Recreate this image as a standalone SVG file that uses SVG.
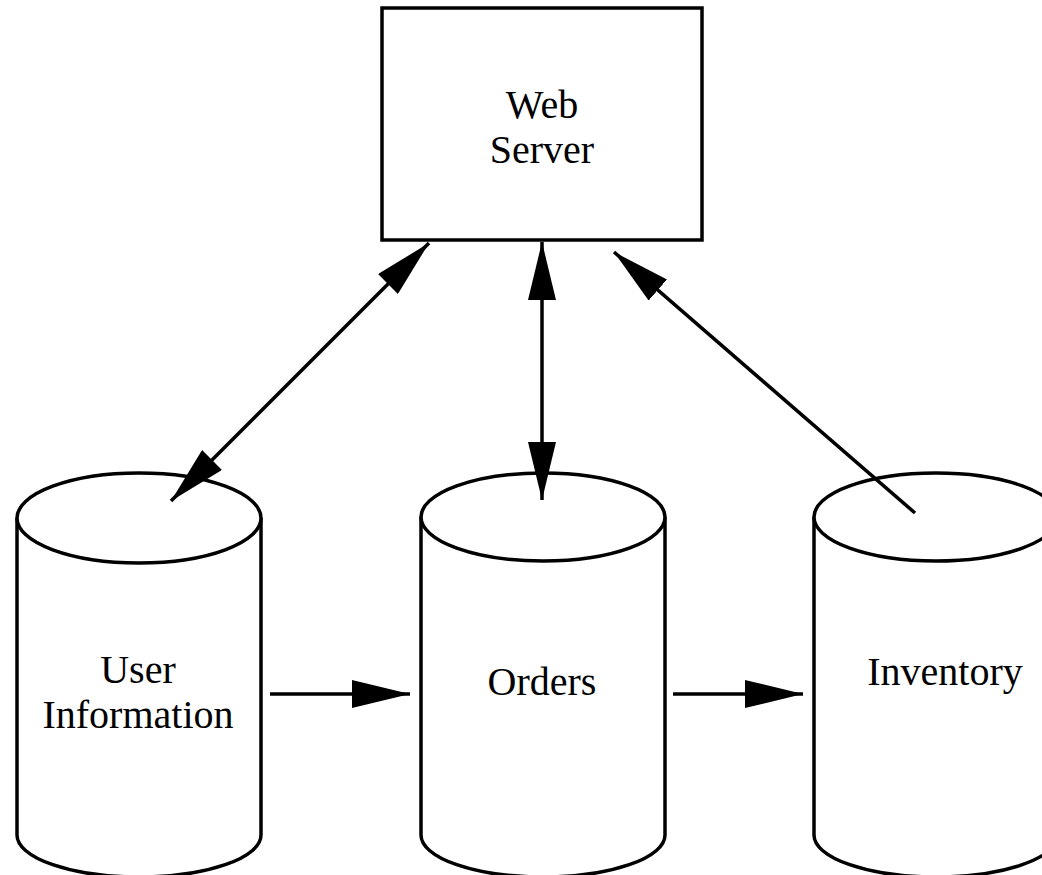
<svg xmlns="http://www.w3.org/2000/svg" width="1042" height="875" viewBox="0 0 1042 875">
<style>
.shape{fill:#fff;stroke:#000;stroke-width:3.5}
.lbl{font-family:"Liberation Serif","Times New Roman",serif;font-size:40px;fill:#000;text-anchor:middle}
.conn{stroke:#000;stroke-width:3.5;fill:none}
</style>
<defs>
<marker id="ah" markerUnits="userSpaceOnUse" markerWidth="58" markerHeight="28" refX="58" refY="14" orient="auto-start-reverse" viewBox="0 0 58 28">
<path d="M0,0 L58,14 L0,28 z" fill="#000"/>
</marker>
</defs>
<rect width="1042" height="875" fill="#fff"/>
<g id="web-server">
<rect class="shape" x="382" y="8" width="320" height="232"/>
<text class="lbl" x="542" y="118">Web</text>
<text class="lbl" x="542" y="163">Server</text>
</g>
<g id="user-information">
<path class="shape" d="M17,518 L17,835 A122,42 0 0 0 261,835 L261,518"/>
<ellipse class="shape" cx="139" cy="518" rx="122" ry="45"/>
<text class="lbl" x="138" y="683">User</text>
<text class="lbl" x="138" y="728">Information</text>
</g>
<g id="orders">
<path class="shape" d="M421,517 L421,835 A122,42 0 0 0 665,835 L665,517"/>
<ellipse class="shape" cx="543" cy="517" rx="122" ry="44"/>
<text class="lbl" x="542" y="695">Orders</text>
</g>
<g id="inventory">
<path class="shape" d="M814,517 L814,835 A122,42 0 0 0 1058,835 L1058,517"/>
<ellipse class="shape" cx="936" cy="517" rx="122" ry="44"/>
<text class="lbl" x="945" y="685">Inventory</text>
</g>
<g id="connectors">
<line class="conn" x1="171" y1="501" x2="429" y2="243" marker-start="url(#ah)" marker-end="url(#ah)"/>
<line class="conn" x1="542" y1="500" x2="542" y2="242" marker-start="url(#ah)" marker-end="url(#ah)"/>
<line class="conn" x1="915" y1="513" x2="614" y2="252" marker-end="url(#ah)"/>
<line class="conn" x1="270" y1="694" x2="410" y2="694" marker-end="url(#ah)"/>
<line class="conn" x1="673" y1="694" x2="803" y2="694" marker-end="url(#ah)"/>
</g>
</svg>
